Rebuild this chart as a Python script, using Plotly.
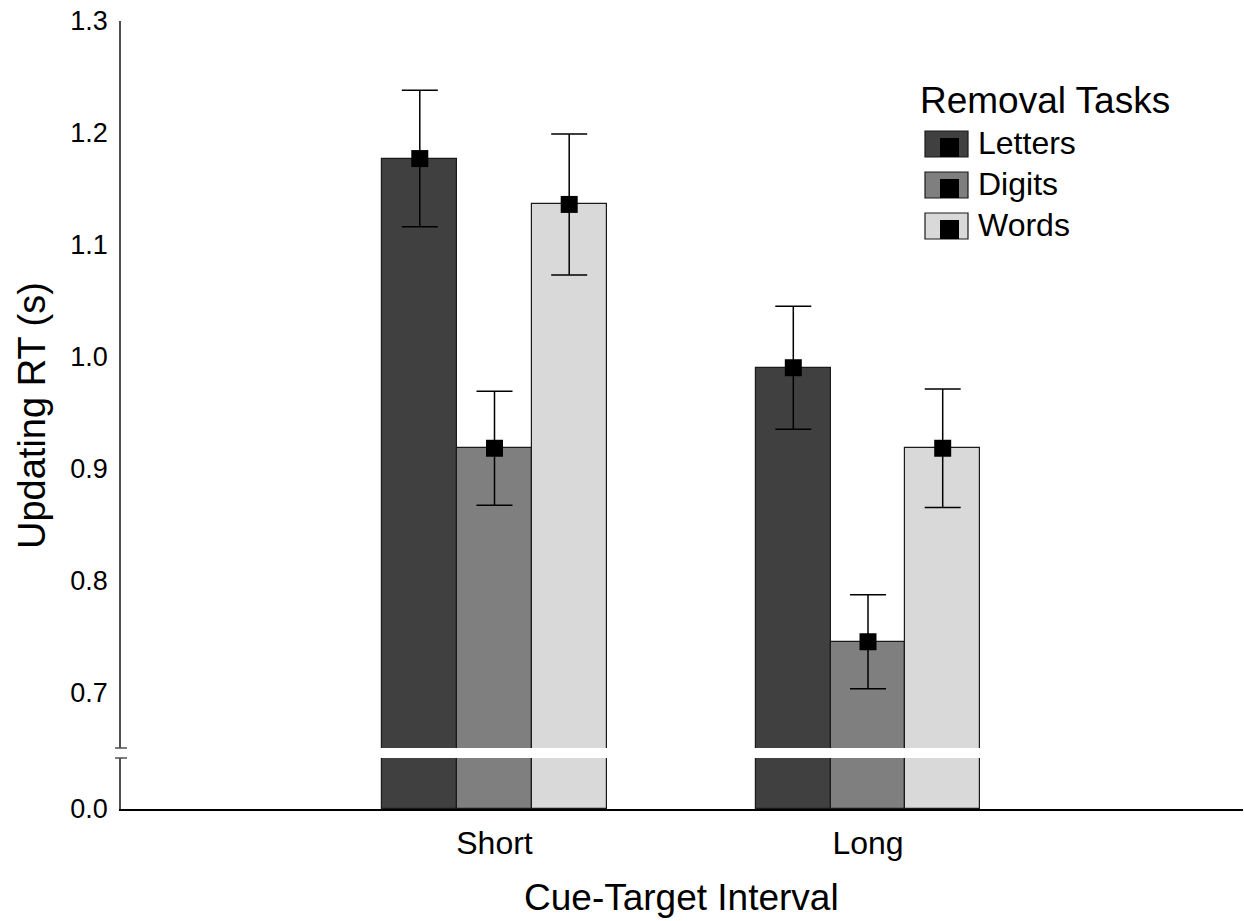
import plotly.graph_objects as go

# ---- data ----
intervals = ["Short", "Long"]
tasks = ["Letters", "Digits", "Words"]
rt_letters = [1.177, 0.990]
rt_digits = [0.918, 0.745]
rt_words = [1.136, 0.918]
err_letters = [0.061, 0.055]
err_digits = [0.051, 0.042]
err_words = [0.063, 0.053]
y_ticks_upper = [0.7, 0.8, 0.9, 1.0, 1.1, 1.2, 1.3]

means = [rt_letters, rt_digits, rt_words]
errs = [err_letters, err_digits, err_words]
colors = ["#404040", "#7f7f7f", "#d9d9d9"]

W, H = 1244, 921
ML, MR, MT, MB = 121, 1, 21, 112
PW, PH = W - ML - MR, H - MT - MB
axis_bottom_px = H - MB


def xp(px):
    return (px - ML) / PW


def yp(py):
    return (axis_bottom_px - py) / PH


FONT = "Liberation Sans, Arial, sans-serif"
bar_w = 0.2
offsets = [-0.2, 0.0, 0.2]

fig = go.Figure()
for j, task in enumerate(tasks):
    xs = [i + offsets[j] for i in range(len(intervals))]
    for ax in ("y", "y2"):
        fig.add_trace(go.Bar(
            x=xs, y=means[j], width=bar_w, yaxis=ax, xaxis="x",
            marker=dict(color=colors[j], line=dict(color="#1a1a1a", width=1.2)),
            showlegend=False, name=task,
        ))
    fig.add_trace(go.Scatter(
        x=xs, y=means[j], yaxis="y2", xaxis="x", mode="markers",
        marker=dict(symbol="square", size=17, color="black"),
        error_y=dict(type="data", array=errs[j], color="black", thickness=1.5, width=18),
        showlegend=False, name=task,
    ))

lower_top_px = 758
upper_bot_px = 748

fig.update_layout(
    width=W, height=H,
    margin=dict(l=ML, r=MR, t=MT, b=MB),
    plot_bgcolor="white", paper_bgcolor="white",
    font=dict(family=FONT, color="black"),
    xaxis=dict(
        range=[-1, 2.004], tickvals=list(range(len(intervals))), ticktext=intervals,
        showgrid=False, zeroline=False, showline=True, linecolor="black", linewidth=1.5,
        ticks="", tickfont=dict(size=32, family=FONT), ticklabelstandoff=5,
    ),
    yaxis=dict(
        domain=[0, yp(lower_top_px)], range=[0, 0.05], tickvals=[0], ticktext=["0.0"],
        showgrid=False, zeroline=False, showline=True, linecolor="#505050", linewidth=1.5,
        ticks="", tickfont=dict(size=27, family=FONT), ticklabelstandoff=6,
    ),
    yaxis2=dict(
        domain=[yp(upper_bot_px), 1], range=[0.65, 1.3], tickvals=y_ticks_upper,
        ticktext=[f"{v:.1f}" for v in y_ticks_upper],
        showgrid=False, zeroline=False, showline=True, linecolor="#505050", linewidth=1.5,
        ticks="", tickfont=dict(size=27, family=FONT), ticklabelstandoff=6,
        anchor="x",
    ),
    bargap=0, showlegend=False,
)

shapes = []
annotations = []
# axis break marks
for py in (upper_bot_px, lower_top_px):
    shapes.append(dict(type="line", xref="paper", yref="paper",
                       x0=xp(115), x1=xp(127), y0=yp(py), y1=yp(py),
                       line=dict(color="#505050", width=1.5)))

# axis titles
annotations.append(dict(text="Cue-Target Interval", xref="paper", yref="paper",
                        x=xp(681), y=yp(897), showarrow=False,
                        font=dict(size=37, family=FONT), xanchor="center", yanchor="middle"))
annotations.append(dict(text="Updating RT (s)", xref="paper", yref="paper",
                        x=xp(32), y=yp(416), showarrow=False, textangle=-90,
                        font=dict(size=38, family=FONT), xanchor="center", yanchor="middle"))

# manual legend
annotations.append(dict(text="Removal Tasks", xref="paper", yref="paper",
                        x=xp(918), y=yp(100), showarrow=False,
                        font=dict(size=37, family=FONT), xanchor="left", yanchor="middle"))
box_tops = [131, 172, 213]
for j, task in enumerate(tasks):
    t = box_tops[j]
    b = t + 26
    shapes.append(dict(type="rect", xref="paper", yref="paper",
                       x0=xp(925), x1=xp(968), y0=yp(b), y1=yp(t),
                       fillcolor=colors[j], line=dict(color="#1a1a1a", width=1.2)))
    shapes.append(dict(type="rect", xref="paper", yref="paper",
                       x0=xp(940), x1=xp(959), y0=yp(b), y1=yp(t + 7),
                       fillcolor="black", line=dict(color="black", width=0)))
    annotations.append(dict(text=task, xref="paper", yref="paper",
                            x=xp(976), y=yp(t + 12), showarrow=False,
                            font=dict(size=32, family=FONT), xanchor="left", yanchor="middle"))

fig.update_layout(shapes=shapes, annotations=annotations)
fig.write_html("out.html", config={"displayModeBar": False},
               post_script="document.body.style.margin='0';document.body.style.overflow='hidden';")
